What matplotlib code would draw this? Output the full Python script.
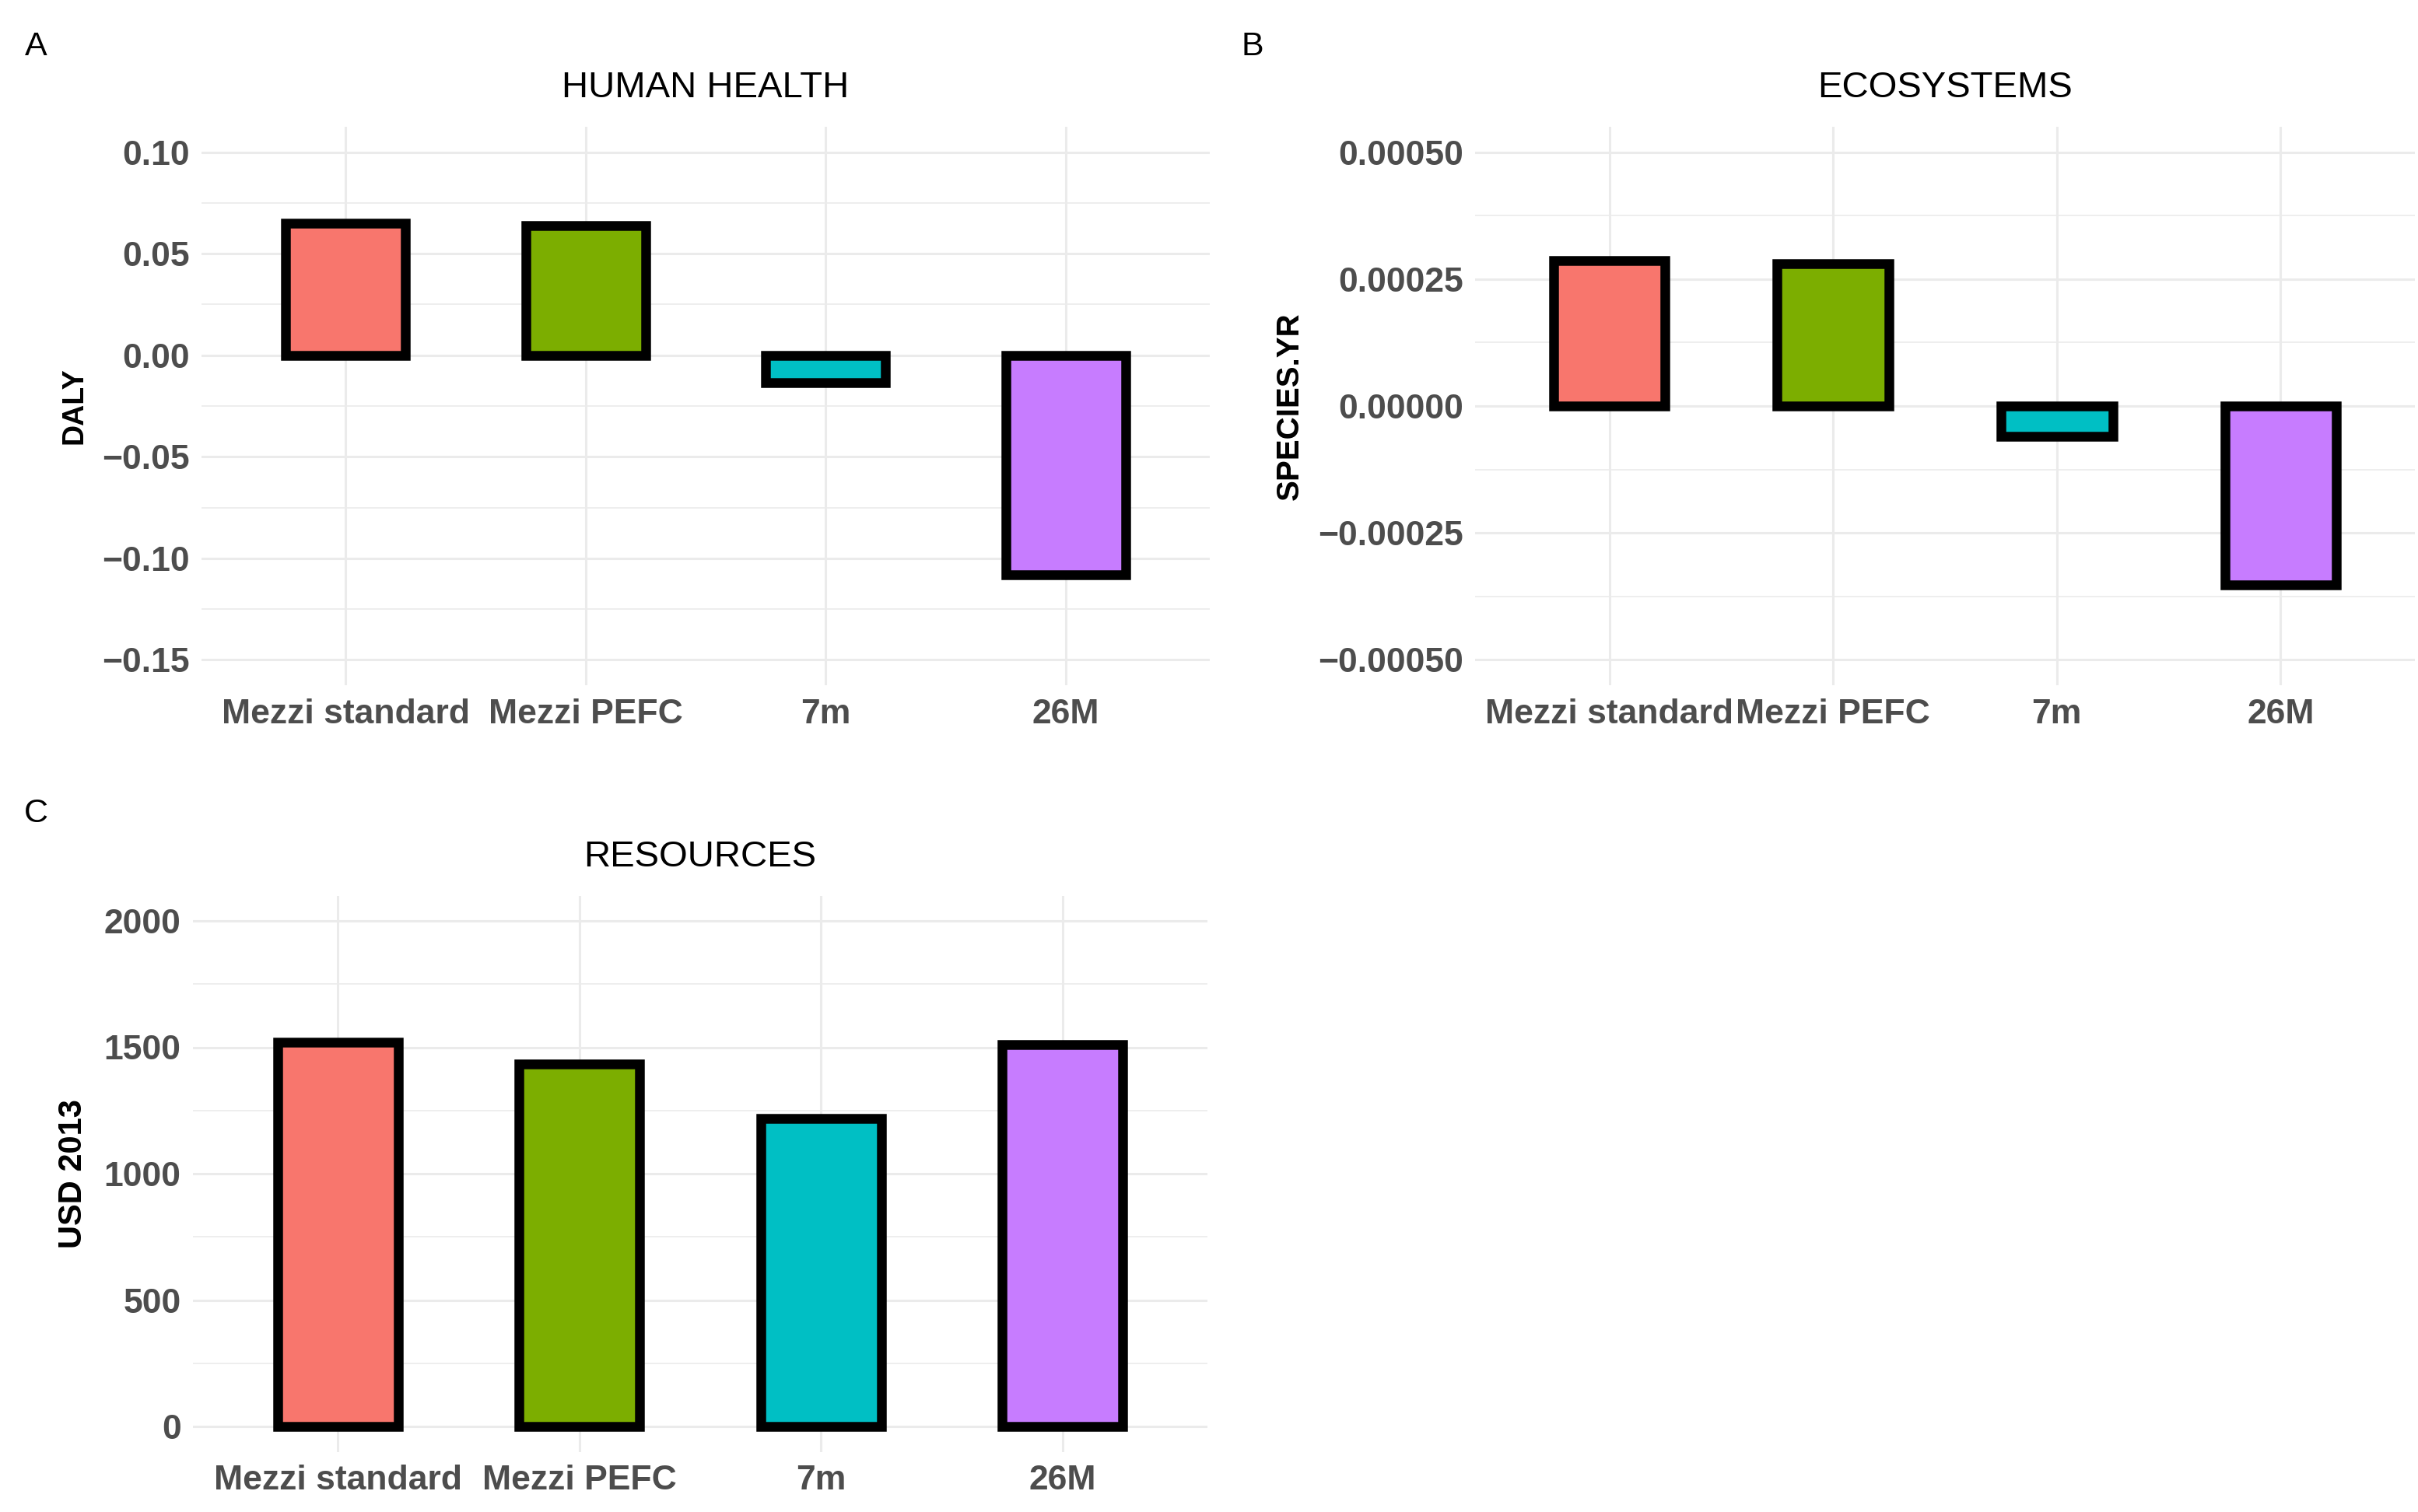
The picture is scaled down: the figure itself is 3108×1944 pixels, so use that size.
import matplotlib
matplotlib.use("Agg")
import matplotlib.pyplot as plt
from matplotlib.ticker import FixedLocator, FuncFormatter

plt.rcParams['font.family'] = ['Liberation Sans', 'DejaVu Sans']

# ---------------- data ----------------
categories = ["Mezzi standard", "Mezzi PEFC", "7m", "26M"]
colors = ["#F8766D", "#7CAE00", "#00BFC4", "#C77CFF"]

human_health = [0.065, 0.0637, -0.0137, -0.108]          # DALY
ecosystems = [0.000286, 0.000280, -0.000060, -0.000353]  # SPECIES.YR
resources = [1519, 1435, 1217, 1510]                      # USD 2013

hh_ticks = [-0.15, -0.10, -0.05, 0.00, 0.05, 0.10]
eco_ticks = [-0.0005, -0.00025, 0.0, 0.00025, 0.0005]
res_ticks = [0, 500, 1000, 1500, 2000]

# ---------------- layout ----------------
W, H = 3108, 1944
DPI = 200
fig = plt.figure(figsize=(W / DPI, H / DPI), dpi=DPI)


def box(left, top, right, bottom):
    return [left / W, (H - bottom) / H, (right - left) / W, (bottom - top) / H]


def panel(rect, values, ticks, fmt, title, ylabel, ylabel_x, ylabel_size,
          letter, letter_xy):
    ax = fig.add_axes(box(*rect))
    x = list(range(1, len(categories) + 1))
    bars = ax.bar(x, values, width=0.5, color=colors, edgecolor="black",
                  linewidth=4.5, zorder=3)
    for b in bars:
        b.set_joinstyle("miter")
    rng = ticks[-1] - ticks[0]
    ax.set_ylim(ticks[0] - 0.05 * rng, ticks[-1] + 0.05 * rng)
    ax.set_xlim(0.4, len(categories) + 0.6)
    ax.set_xticks(x)
    ax.set_xticklabels(categories)
    ax.yaxis.set_major_locator(FixedLocator(ticks))
    step = ticks[1] - ticks[0]
    minors = [t + step / 2 for t in ticks[:-1]]
    ax.yaxis.set_minor_locator(FixedLocator(minors))
    ax.yaxis.set_major_formatter(FuncFormatter(fmt))
    for s in ax.spines.values():
        s.set_visible(False)
    ax.grid(True, which="major", color="#EBEBEB", linewidth=1.1, zorder=0)
    ax.grid(True, which="minor", axis="y", color="#EBEBEB", linewidth=0.6, zorder=0)
    ax.set_axisbelow(True)
    ax.tick_params(axis="both", which="both", length=0)
    ax.tick_params(axis="x", pad=6.0)
    ax.tick_params(axis="y", pad=5.5)
    for lab in ax.get_xticklabels() + ax.get_yticklabels():
        lab.set_fontsize(16)
        lab.set_fontweight("bold")
        lab.set_color("#4D4D4D")
    top_px = rect[1]
    bottom_px = rect[3]
    ax.text(0.5, 1 + 50 / (bottom_px - top_px), title, transform=ax.transAxes,
            ha="center", va="center", fontsize=17, color="black")
    fig.text(ylabel_x / W, 1 - ((top_px + bottom_px) / 2) / H, ylabel,
             rotation=90, ha="center", va="center", fontsize=ylabel_size,
             fontweight="bold", color="black")
    fig.text(letter_xy[0] / W, 1 - letter_xy[1] / H, letter, ha="center",
             va="center", fontsize=15.5, color="black")
    return ax


def neg(s):
    return s.replace("-", "\u2212")


panel((259, 163, 1555, 881), human_health, hh_ticks,
      lambda v, p: neg(f"{v:.2f}"), "HUMAN HEALTH", "DALY", 96, 13.5,
      "A", (46, 60))
panel((1896, 163, 3104, 881), ecosystems, eco_ticks,
      lambda v, p: neg(f"{v:.5f}"), "ECOSYSTEMS", "SPECIES.YR", 1658, 14.5,
      "B", (1610, 60))
panel((248, 1151.5, 1552, 1866.5), resources, res_ticks,
      lambda v, p: f"{v:.0f}", "RESOURCES", "USD 2013", 94, 15,
      "C", (46, 1046))

fig.savefig("out.png", dpi=DPI, facecolor="white")
